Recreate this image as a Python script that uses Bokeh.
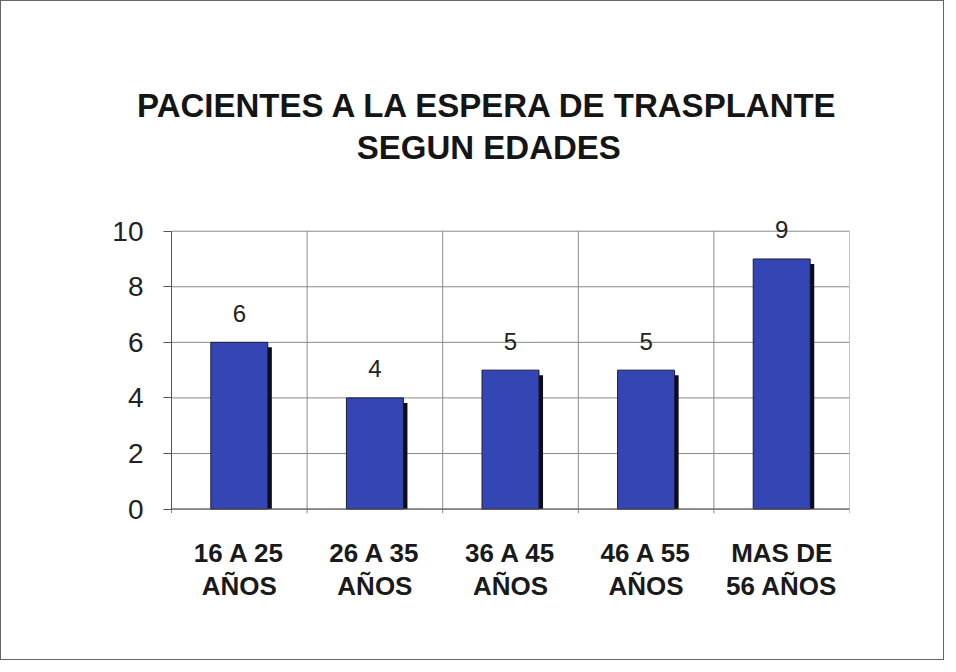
from bokeh.plotting import figure
from bokeh.models import Range1d, FixedTicker, ColumnDataSource
from bokeh.core.properties import value
from bokeh.embed import file_html
from bokeh.resources import INLINE

categories = ["16 A 25\nAÑOS", "26 A 35\nAÑOS", "36 A 45\nAÑOS", "46 A 55\nAÑOS", "MAS DE\n56 AÑOS"]
counts = [6, 4, 5, 5, 9]
y_ticks = [0, 2, 4, 6, 8, 10]
title_lines = ["PACIENTES A LA ESPERA DE TRASPLANTE", "SEGUN EDADES"]

FONT = "Liberation Sans"
n = len(categories)
ymax = 10
centers = [i + 0.5 for i in range(n)]
boundaries = list(range(n + 1))

W, H = 944, 660
axis_px, frame_left, frame_right = 170, 100, 848
zero_px, ten_px = 508, 230
unit_y = (zero_px - ten_px) / ymax
unit_x = (frame_right - axis_px) / n
left_extra = (axis_px - frame_left) / unit_x
top_extra = 6
bottom_extra = 0.7
frame_top = ten_px - top_extra * unit_y
frame_bottom = zero_px + bottom_extra * unit_y

p = figure(width=W, height=H, output_backend="svg", toolbar_location=None,
           x_range=Range1d(-left_extra, n), y_range=Range1d(-bottom_extra, ymax + top_extra),
           min_border_left=frame_left, min_border_right=W - frame_right,
           min_border_top=int(round(frame_top)), min_border_bottom=int(round(H - frame_bottom)))
p.styles = {"border": "1.5px solid #666"}
p.background_fill_color = "white"
p.border_fill_color = "white"
p.outline_line_color = None
p.xgrid.visible = False
p.ygrid.visible = False

# grid of the chart area only (vertical lines poke slightly below the axis, like ticks)
p.segment(x0=boundaries, y0=[-0.15] * len(boundaries), x1=boundaries, y1=[ymax] * len(boundaries),
          line_color="#8a8a8a", line_width=1)
p.segment(x0=[0] * len(y_ticks), y0=y_ticks, x1=[n] * len(y_ticks), y1=y_ticks,
          line_color="#8a8a8a", line_width=1)

src = ColumnDataSource(dict(x=centers, top=counts, lab=[str(c) for c in counts]))
shadow_src = ColumnDataSource(dict(x=[c + 0.03 for c in centers], top=[v - 0.18 for v in counts]))
p.vbar(x="x", top="top", width=0.42, source=shadow_src, fill_color="#0d0d14", line_color=None)
p.vbar(x="x", top="top", width=0.42, source=src, fill_color="#3446b4",
       line_color="#1a1a40", line_width=1)

# x axis line at zero
p.segment(x0=[0], y0=[0], x1=[n], y1=[0], line_color="#555555", line_width=1)

p.text(x="x", y="top", text="lab", source=src, text_font=value(FONT), text_font_size="24px",
       text_color="#222222", text_align="center", text_baseline="alphabetic", y_offset=-29)

# title, placed above the chart area
tsrc = ColumnDataSource(dict(x=[n / 2 - 0.16] * len(title_lines),
                             y=[ymax + 4.52, ymax + 3.02], t=title_lines))
p.text(x="x", y="y", text="t", source=tsrc, text_font=value(FONT), text_font_style="bold",
       text_font_size="33px", text_color="#151515", text_align="center", text_baseline="middle")

# axes
p.yaxis.fixed_location = 0
p.yaxis.ticker = FixedTicker(ticks=y_ticks)
p.yaxis.bounds = (0, ymax)
p.yaxis.major_label_text_font = FONT
p.yaxis.major_label_text_font_size = "28px"
p.yaxis.major_label_text_color = "#222222"
p.yaxis.major_tick_out = 8
p.yaxis.major_tick_in = 0
p.yaxis.minor_tick_line_color = None
p.yaxis.major_label_standoff = 20
p.yaxis.axis_line_color = "#555555"
p.yaxis.major_tick_line_color = "#555555"

p.xaxis.ticker = FixedTicker(ticks=centers)
p.xaxis.major_label_overrides = {c: categories[i] for i, c in enumerate(centers)}
p.xaxis.major_label_text_font = FONT
p.xaxis.major_label_text_font_style = "bold"
p.xaxis.major_label_text_font_size = "26px"
p.xaxis.major_label_text_color = "#1a1a1a"
p.xaxis.major_label_text_line_height = 1.12
p.xaxis.major_tick_line_color = None
p.xaxis.minor_tick_line_color = None
p.xaxis.axis_line_color = None
p.xaxis.major_label_standoff = 3

open("out.html", "w").write(file_html(p, INLINE))
